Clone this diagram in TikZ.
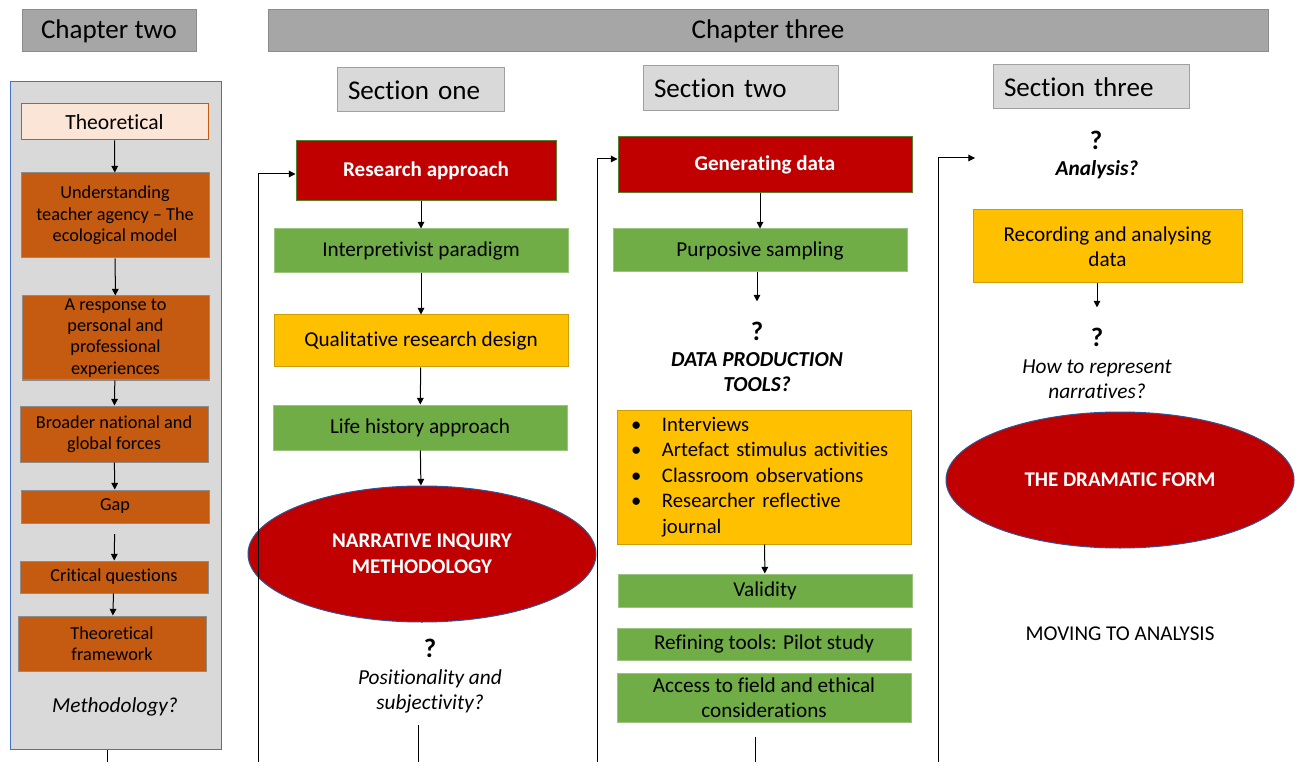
\documentclass[tikz,border=0pt]{standalone}
\usepackage{fontspec}
\setmainfont{Carlito}[Ligatures=NoCommon]
\usetikzlibrary{shapes.geometric,arrows.meta}
\definecolor{hdrfill}{HTML}{A6A6A6}
\definecolor{hdrdraw}{HTML}{8C8C8C}
\definecolor{secfill}{HTML}{D9D9D9}
\definecolor{secdraw}{HTML}{A0A0A0}
\definecolor{panelblue}{HTML}{4472C4}
\definecolor{peach}{HTML}{FBE5D6}
\definecolor{orng}{HTML}{C55A11}
\definecolor{obrd}{HTML}{8C8C8C}
\definecolor{red1}{HTML}{C00000}
\definecolor{redbrd}{HTML}{548235}
\definecolor{grn}{HTML}{70AD47}
\definecolor{grnbrd}{HTML}{9BC57E}
\definecolor{yel}{HTML}{FFC000}
\definecolor{yelbrd}{HTML}{C9A000}
\definecolor{ellbrd}{HTML}{2F5597}
\newcommand\fs[2]{\fontsize{#1}{#2}\selectfont}
\begin{document}
\begin{tikzpicture}[x=0.75pt, y=-0.75pt,
 wh/.style 2 args={minimum width=#1*0.75pt, minimum height=#2*0.75pt},
 base/.style={rectangle, inner sep=0pt, align=center, line width=0.75pt},
 hdr/.style={base, fill=hdrfill, draw=hdrdraw, font=\fs{20.3}{24}},
 sec/.style={base, fill=secfill, draw=secdraw, align=left, font=\fs{20.3}{24}},
 obox/.style={base, fill=orng, draw=obrd, font=\fs{13.7}{15.9}},
 rbox/.style={base, fill=red1, draw=redbrd, text=white, font=\bfseries\fs{15.8}{18.5}},
 gbox/.style={base, fill=grn, draw=grnbrd, font=\fs{15.9}{18.75}},
 ybox/.style={base, fill=yel, draw=yelbrd, font=\fs{15.9}{18.75}},
 oval/.style={ellipse, inner sep=0pt, fill=red1, draw=ellbrd, line width=0.75pt, text=white, align=center, font=\bfseries\fs{15.7}{19.5}},
 qmark/.style={font=\bfseries\fs{20}{24}, inner sep=0pt},
 note/.style={align=center, inner sep=0pt, font=\itshape\fs{16}{19}},
 arr/.style={-{Triangle[length=5pt,width=5pt]}, line width=0.75pt},
 ln/.style={line width=0.75pt}]
\fill[white] (0,0) rectangle (1301,762);
\useasboundingbox (0,0) rectangle (1301,762);

% headers
\node[hdr, wh={174}{42}] (ch2) at (109,31) {Chapter two};
\node[hdr, wh={1000}{42}] (ch3) at (768,31) {Chapter three};

% chapter two panel
\node[base, fill=secfill, draw=panelblue, wh={211}{667}] (panel) at (115.5,415.5) {};
\node[base, fill=peach, draw=orng, wh={187}{36}, font=\fs{16.2}{18}] (theo) at (114.5,122) {Theoretical};
\node[obox, wh={188}{85}, font=\fs{13.7}{16.1}] (und) at (115,215.5) {Understanding\\teacher agency – The\\ecological model};
\node[obox, wh={187}{84}] (resp) at (115.5,338) {A response to\\personal and\\professional\\experiences};
\node[obox, wh={188}{56}] (broad) at (114,434) {Broader national and\\global forces};
\node[obox, wh={188}{33}] (gap) at (115,506.5) {Gap};
\node[obox, wh={188}{32}] (crit) at (114,577) {Critical questions};
\node[obox, wh={188}{55}] (tf) at (112,643.5) {Theoretical\\framework};
\node[note] (meth) at (115,707) {Methodology?};
\draw[arr] (theo) -- (und);
\draw[arr] (und) -- (resp);
\draw[arr] (resp) -- (broad);
\draw[arr] (broad) -- (gap);
\draw[arr, shorten <=8pt] (gap) -- (crit);
\draw[arr] (crit) -- (tf);
\coordinate (e1) at (107,762);
\draw[ln] (panel.south -| e1) -- (e1);

% section one
\node[sec, wh={167}{44}, text width=108.75pt] (s1) at (420.5,90) {Section one};
\node[rbox, wh={260}{60}] (ra) at (426,171) {Research approach};
\node[gbox, wh={294}{44}] (ip) at (421,251) {Interpretivist paradigm};
\node[ybox, wh={294}{52}] (qr) at (421,341) {Qualitative research design};
\node[gbox, wh={294}{45}] (lh) at (420,427.5) {Life history approach};
\node[oval, wh={348}{136}] (ni) at (422,554) {NARRATIVE INQUIRY\\METHODOLOGY};
\node[qmark] (q1) at (430,648) {?};
\node[note] (pos) at (430,691.5) {Positionality and\\subjectivity?};
\draw[arr] (ip.north |- ra.south) -- (ip.north);
\draw[arr] (ip) -- (qr);
\draw[arr] (qr) -- (lh);
\draw[arr] (lh) -- (ni);
\coordinate (t2) at (418,725);
\coordinate (e2) at (418,762);
\draw[ln] (t2) -- (e2);
\coordinate (l1) at (258,762);
\draw[arr] (l1) |- ([yshift=-2.25pt]ra.west);

% section two
\node[sec, wh={195}{45}, text width=129.75pt] (s2) at (740.5,88.5) {Section two};
\node[rbox, wh={294}{56}] (gd) at (765,165) {Generating data};
\node[gbox, wh={294}{43}] (ps) at (760,250.5) {Purposive sampling};
\node[qmark] (q2) at (757,331) {?};
\node[note, font=\bfseries\itshape\fs{16}{18.75}] (dpt) at (757,372.5) {DATA PRODUCTION\\TOOLS?};
\node[ybox, wh={294}{134}, text width=199.5pt, align=left, font=\fs{15.5}{19.1}] (tools) at (764,477)
 {\makebox[23.25pt][l]{\textbullet}Interviews\\
  \makebox[23.25pt][l]{\textbullet}Artefact stimulus activities\\
  \makebox[23.25pt][l]{\textbullet}Classroom observations\\
  \makebox[23.25pt][l]{\textbullet}Researcher reflective\\
  \hspace*{23.25pt}journal};
\node[gbox, wh={294}{33}] (val) at (765,590.5) {Validity};
\node[gbox, wh={294}{32}] (ref) at (764,644) {Refining tools: Pilot study};
\node[gbox, wh={294}{49}] (acc) at (764,697.5) {Access to field and ethical\\considerations};
\draw[arr] (ps.north |- gd.south) -- (ps.north);
\draw[arr, shorten >=15pt] (ps.south -| q2) -- (q2.north);
\draw[arr] (tools) -- (val);
\coordinate (t3) at (755,737);
\coordinate (e3) at (755,762);
\draw[ln] (t3) -- (e3);
\coordinate (l2) at (597,762);
\draw[arr] (l2) |- ([yshift=4.5pt]gd.west);

% section three
\node[sec, wh={196}{44}, text width=130.5pt] (s3) at (1091,87) {Section three};
\node[qmark] (q3) at (1096,140) {?};
\node[note, font=\bfseries\itshape\fs{16}{18.75}] (an) at (1097,170) {Analysis?};
\node[ybox, wh={269}{73}] (rec) at (1107.5,246.5) {Recording and analysing\\data};
\node[qmark] (q4) at (1097,337) {?};
\node[note] (how) at (1097,379) {How to represent\\narratives?};
\node[oval, wh={348}{136}] (df) at (1120,480) {THE DRAMATIC FORM};
\node[inner sep=0pt, font=\fs{15.8}{18}] (mv) at (1120,634) {MOVING TO ANALYSIS};
\draw[arr, shorten >=15pt] (rec.south -| q4) -- (q4.north);
\coordinate (l3) at (938,762);
\coordinate (a3) at (975,158);
\draw[arr] (l3) |- (a3);
\end{tikzpicture}
\end{document}
